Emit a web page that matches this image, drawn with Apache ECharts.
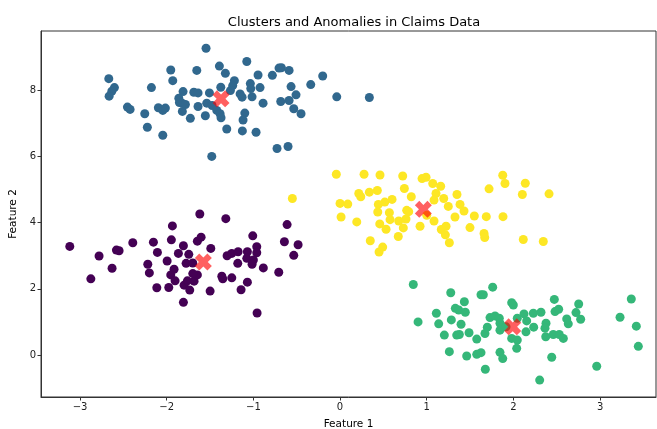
<!DOCTYPE html>
<html>
<head>
<meta charset="utf-8">
<script src="https://cdn.jsdelivr.net/npm/echarts@6/dist/echarts.min.js"></script>
<style>html,body{margin:0;padding:0;background:#fff}#c{width:657px;height:429px}</style>
</head>
<body>
<div id="c"></div>
<script>
// ---- Data ----
const title = "Clusters and Anomalies in Claims Data";
const xName = "Feature 1";
const yName = "Feature 2";
const xTicks = [-3, -2, -1, 0, 1, 2, 3];
const yTicks = [0, 2, 4, 6, 8];

const blueX = [-1.546,-1.392,-1.076,-1.953,-1.653,-1.323,-0.946,-0.781,-0.704,-0.677,-0.588,-0.200,-0.338,-2.668,-2.603,-2.633,-2.664,-2.176,-1.930,-1.811,-1.687,-1.638,-1.507,-1.376,-1.219,-1.238,-1.265,-1.153,-1.130,-1.035,-1.030,-1.015,-0.923,-0.565,-0.508,-0.588,-0.684,-0.888,-0.534,-0.450,-0.038,0.338,-2.453,-2.422,-2.253,-2.096,-2.045,-2.015,-1.860,-1.853,-1.822,-1.784,-1.819,-1.727,-1.638,-1.554,-1.538,-1.476,-1.422,-1.384,-1.373,-1.099,-1.119,-1.307,-1.127,-0.969,-2.223,-2.045,-1.480,-0.727,-0.600];
const blueY = [9.27,8.73,8.87,8.61,8.60,8.51,8.46,8.45,8.67,8.68,8.60,8.43,8.17,8.35,8.08,7.97,7.82,8.08,8.29,7.96,7.94,7.92,7.92,8.09,8.29,8.14,7.99,7.89,7.79,8.20,8.05,7.80,8.08,8.11,7.86,7.69,7.66,7.61,7.44,7.29,7.80,7.78,7.49,7.42,7.29,7.47,7.39,7.46,7.76,7.63,7.61,7.57,7.36,7.15,7.51,7.23,7.61,7.54,7.39,7.29,7.17,7.31,7.10,6.83,6.77,6.73,6.88,6.64,6.00,6.24,6.30];

const purpleX = [-1.618,-1.318,-1.934,-0.611,-1.007,-0.642,-0.484,-0.534,-3.118,-2.780,-2.580,-2.549,-2.391,-2.153,-1.946,-1.646,-1.603,-1.807,-1.491,-2.107,-1.865,-1.745,-1.995,-2.218,-2.200,-2.630,-2.875,-1.915,-1.953,-1.903,-1.976,-2.114,-1.799,-1.734,-1.761,-1.684,-1.646,-1.699,-1.776,-1.699,-1.499,-1.807,-1.303,-1.249,-1.176,-1.069,-0.961,-0.961,-1.076,-1.000,-1.180,-1.015,-1.364,-1.353,-1.249,-1.069,-1.142,-0.885,-0.707,-0.957];
const purpleY = [4.26,4.12,3.90,3.94,3.60,3.42,3.33,3.01,3.28,2.99,3.17,3.15,3.39,3.41,3.48,3.44,3.56,3.30,3.22,3.10,3.07,3.04,2.84,2.74,2.48,2.62,2.30,2.59,2.42,2.24,2.04,2.03,2.11,1.96,2.24,2.23,2.42,2.46,2.77,2.78,1.93,1.59,3.00,3.07,3.12,3.12,3.27,3.09,2.92,2.87,2.77,2.74,2.38,2.30,2.33,2.20,1.97,2.63,2.50,1.27];

const yellowX = [-0.043,0.277,0.461,0.723,0.946,0.992,1.069,1.161,0.742,1.107,1.084,0.822,0.430,0.338,0.216,0.239,0.000,0.089,0.012,0.193,0.442,0.516,0.600,0.435,0.569,0.577,0.677,0.761,0.769,0.792,0.458,0.531,0.730,0.672,0.923,1.000,1.084,0.349,0.492,0.450,1.196,1.249,1.349,1.384,1.430,1.326,1.223,1.168,1.215,1.261,1.499,1.549,1.687,1.661,1.669,1.719,1.880,1.877,1.903,2.137,2.103,2.411,2.114,2.345,-0.550];
const yellowY = [5.46,5.46,5.44,5.41,5.33,5.37,5.18,5.10,5.03,4.88,4.68,4.78,4.97,4.92,4.88,4.78,4.58,4.56,4.17,4.02,4.55,4.62,4.70,4.32,4.30,4.09,4.05,4.11,4.37,4.33,3.96,3.80,3.84,3.58,3.89,4.22,4.05,3.45,3.26,3.11,4.73,4.49,4.85,4.55,4.35,4.17,3.89,3.79,3.63,3.39,3.85,4.20,4.18,3.67,3.55,5.02,4.18,5.43,5.18,5.19,4.85,4.87,3.49,3.43,4.73];

const greenX = [0.845,1.277,1.626,1.653,1.761,1.980,1.999,2.472,2.753,3.360,1.434,1.330,1.369,1.445,1.111,0.900,1.138,1.284,1.396,1.203,1.346,1.376,1.488,1.577,1.672,1.699,1.730,1.788,1.837,1.845,1.845,1.915,2.045,2.122,2.153,2.230,2.318,2.234,2.145,2.376,2.364,2.373,2.460,2.529,2.576,2.480,2.522,2.615,2.633,2.722,2.776,1.980,2.045,2.038,1.261,1.461,1.577,1.626,1.845,1.877,1.676,2.442,2.303,2.961,3.230,3.418,3.441];
const greenY = [2.13,1.88,1.82,1.82,2.05,1.58,1.51,1.68,1.54,1.69,1.61,1.41,1.36,1.29,1.26,1.00,0.94,1.06,0.93,0.60,0.60,0.62,0.67,0.48,0.65,0.84,1.13,1.18,1.11,0.96,0.75,0.85,1.11,1.24,1.03,1.26,1.29,0.84,0.70,0.96,0.81,0.55,0.62,0.62,0.50,1.31,1.38,1.09,0.94,1.28,1.08,0.50,0.45,0.20,0.10,-0.03,0.02,0.07,0.08,-0.11,-0.43,-0.07,-0.76,-0.34,1.14,0.87,0.26];

const centroidX = [-1.373, -1.577, 0.961, 1.992];
const centroidY = [7.74, 2.81, 4.40, 0.85];

// ---- Chart ----
const pairs = (xs, ys) => xs.map((x, i) => [x, ys[i]]);
const minus = v => String(v).replace('-', '\u2212');
const font = 'DejaVu Sans';
const xMark = 'path://M0,2.6 L2.6,0 L5,2.4 L7.4,0 L10,2.6 L7.6,5 L10,7.4 L7.4,10 L5,7.6 L2.6,10 L0,7.4 L2.4,5 Z';

const clusters = [
  { x: purpleX, y: purpleY, c: '#440154' },
  { x: blueX, y: blueY, c: '#31688e' },
  { x: greenX, y: greenY, c: '#35b779' },
  { x: yellowX, y: yellowY, c: '#fde725' }
];

const series = clusters.map(cl => ({
  type: 'scatter',
  data: pairs(cl.x, cl.y),
  symbolSize: 9,
  itemStyle: { color: cl.c, opacity: 1 },
  silent: true,
  z: 2
}));
series.push({
  type: 'scatter',
  data: pairs(centroidX, centroidY),
  symbol: xMark,
  symbolSize: 17,
  itemStyle: { color: 'rgba(255,0,0,0.78)' },
  silent: true,
  z: 5
});

const chart = echarts.init(document.getElementById('c'), null, { renderer: 'canvas' });
chart.setOption({
  animation: false,
  backgroundColor: '#fff',
  title: {
    text: title,
    left: 349,
    top: 11,
    textAlign: 'center',
    textStyle: { fontFamily: font, fontSize: 13, fontWeight: 'normal', color: '#000' }
  },
  grid: {
    left: 41, right: 1, top: 31, bottom: 32,
    outerBoundsMode: 'none',
    containLabel: false,
    show: true, borderColor: '#333', borderWidth: 1, backgroundColor: 'transparent'
  },
  xAxis: {
    type: 'value',
    min: -3.45, max: 3.645,
    name: xName,
    nameLocation: 'middle',
    nameGap: 22,
    nameTextStyle: { fontFamily: font, fontSize: 10.5, color: '#000' },
    splitLine: { show: false },
    axisLine: { onZero: false, lineStyle: { color: '#333' } },
    axisTick: { show: true, inside: false, length: 3.5, lineStyle: { color: '#333' }, customValues: xTicks },
    axisLabel: { customValues: xTicks, formatter: v => minus(v), fontFamily: font, fontSize: 10, color: '#222', margin: 5 }
  },
  yAxis: {
    type: 'value',
    min: -1.27, max: 9.79,
    name: yName,
    nameLocation: 'middle',
    nameGap: 19,
    nameRotate: 90,
    nameTextStyle: { fontFamily: font, fontSize: 10.5, color: '#000' },
    splitLine: { show: false },
    axisLine: { onZero: false, lineStyle: { color: '#333' } },
    axisTick: { show: true, inside: false, length: 3.5, lineStyle: { color: '#333' }, customValues: yTicks },
    axisLabel: { customValues: yTicks, formatter: v => minus(v), fontFamily: font, fontSize: 10, color: '#222', margin: 5 }
  },
  series: series
});
</script>
</body>
</html>
